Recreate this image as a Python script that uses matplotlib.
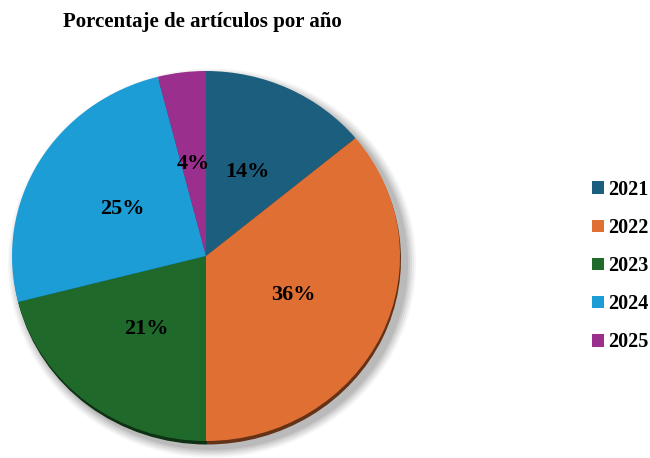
import matplotlib.pyplot as plt
from matplotlib.patches import Ellipse
import matplotlib.colors as mcolors

years = ['2021', '2022', '2023', '2024', '2025']
percent = [14, 36, 21, 25, 4]
colors = ['#1B5E7E', '#DF6F33', '#1F6A2B', '#1C9DD5', '#9B2F8E']

plt.rcParams['font.family'] = ['Liberation Serif', 'DejaVu Serif']

fig = plt.figure(figsize=(6.5, 4.58), dpi=100)
ax = fig.add_axes([0, 0, 1, 1])

# one x unit = one pixel; y units slightly stretched so the pie is a bit flattened
k = 194 / 185
cx, cy = 206, (458 - 256) * k
r = 194

# soft grey shadow to the lower right
for i, a in enumerate([0.04, 0.05, 0.06, 0.07, 0.08]):
    grow = 10 - 2 * i
    ax.add_patch(Ellipse((cx + 6, cy - 7 * k), 2 * (r + grow), 2 * (r + grow),
                         color='#000000', alpha=a, lw=0, zorder=1))

# darker rim under the face
dark = [tuple(c * 0.45 for c in mcolors.to_rgb(col)) for col in colors]
ax.pie(percent, colors=dark, startangle=90, counterclock=False, radius=r,
       center=(cx + 1, cy - 3.5 * k), wedgeprops=dict(linewidth=0, zorder=2))

wedges, texts, autotexts = ax.pie(
    percent, colors=colors, startangle=90, counterclock=False, radius=r,
    center=(cx, cy), autopct='%1.0f%%', pctdistance=0.5,
    wedgeprops=dict(linewidth=0, zorder=3),
    textprops=dict(fontsize=16, fontweight='bold', color='black'))
for t in autotexts:
    t.set_zorder(5)

ax.set_xlim(0, 650)
ax.set_ylim(0, 458 * k)
ax.set_aspect('auto')
ax.axis('off')

fig.text(0.311, 0.952, 'Porcentaje de artículos por año', ha='center', va='center',
         fontsize=15, fontweight='bold')

fig.legend(wedges, years, loc='center left', bbox_to_anchor=(0.883, 0.419),
           frameon=False, handlelength=0.58, handleheight=0.58,
           handletextpad=0.2, labelspacing=0.9, borderaxespad=0.5,
           prop=dict(size=14.5, weight='bold'))

fig.savefig('out.png', dpi=100)
